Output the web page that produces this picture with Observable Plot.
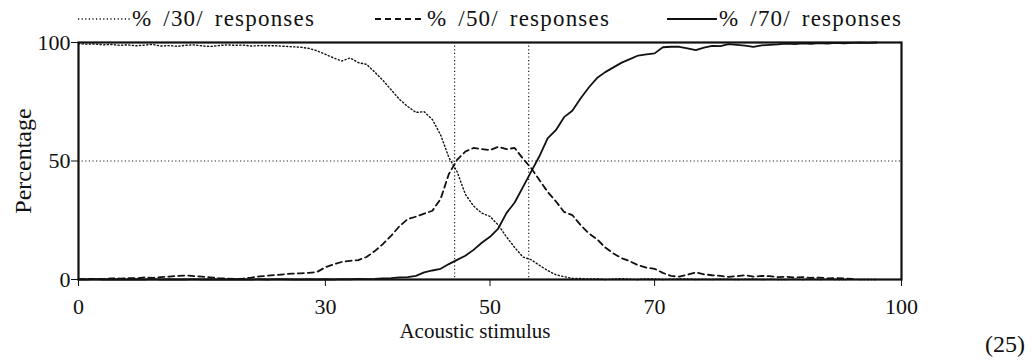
<!DOCTYPE html>
<html><head><meta charset="utf-8">
<script src="https://cdn.jsdelivr.net/npm/d3@7"></script>
<script src="https://cdn.jsdelivr.net/npm/@observablehq/plot@0.6"></script>
<style>
body{margin:0;background:#fff;width:1032px;height:362px;overflow:hidden;position:relative;font-family:"Liberation Serif","Times New Roman",serif;color:#111}
#legend{position:relative;height:36px;width:1032px}
.item{position:absolute;top:4px;height:30px;display:flex;align-items:center;font-size:23px;letter-spacing:1.2px;word-spacing:4px;white-space:nowrap}
.item svg{display:block;margin-right:2px}
#note{position:absolute;left:985px;top:331px;font-size:24px}
</style></head><body>
<div id="legend"></div>
<div id="chart"></div>
<div id="note">(25)</div>
<script>
// Acoustic stimulus steps (x)
const stimulus = [
  0,1,2,3,4,5,6,7,8,9,
  10,11,12,13,14,15,16,17,18,19,
  20,21,22,23,24,25,26,27,28,29,
  30,31,32,33,34,35,36,37,38,39,
  40,41,42,43,44,45,46,47,48,49,
  50,51,52,53,54,55,56,57,58,59,
  60,61,62,63,64,65,66,67,68,69,
  70,71,72,73,74,75,76,77,78,79,
  80,81,82,83,84,85,86,87,88,89,
  90,91,92,93,94,95,96,97
];
// % /30/ responses
const resp30 = [
  99.5,99.3,99.4,99.0,99.2,98.8,99.0,98.6,98.9,99.2,
  98.5,98.7,98.4,98.8,99.0,98.6,98.3,98.7,99.0,98.8,
  98.9,98.5,98.7,98.6,98.6,98.4,98.2,98.0,97.5,96.5,
  95.0,93.5,92.2,93.5,91.5,90.8,87.5,84.0,80.0,76.0,
  73.0,70.5,70.8,67.5,61.0,51.5,45.5,36.0,31.0,28.0,
  26.6,23.0,18.0,13.5,9.5,8.3,6.0,3.8,2.0,1.2,
  0.5,0.4,0.2,0.3,0.0,0.2,0.4,0.1,0.0,0.3,
  0.2,0.0,0.1,0.3,0.2,0.0,0.1,0.0,0.2,0.1,
  0.0,0.1,0.2,0.0,0.1,0.0,0.0,0.1,0.0,0.2,
  0.0,0.1,0.0,0.0,0.1,0.0,0.0,0.0
];
// % /50/ responses
const resp50 = [
  0.0,0.2,0.3,0.2,0.5,0.4,0.6,0.5,0.9,0.7,
  1.0,1.2,1.5,1.7,1.4,1.2,0.9,0.6,0.4,0.2,
  0.4,0.8,1.3,1.6,1.9,2.2,2.5,2.6,2.8,3.2,
  5.2,6.4,7.4,7.9,8.2,9.5,12.0,15.0,18.5,22.5,
  25.5,26.5,27.8,29.0,34.0,44.5,50.5,54.0,55.5,55.0,
  54.6,56.0,55.0,55.5,51.0,47.0,42.0,37.0,33.0,28.5,
  27.2,23.0,19.5,17.0,13.5,11.0,9.0,7.7,6.0,5.0,
  4.5,2.8,1.5,1.2,2.0,3.0,2.2,1.8,1.5,1.1,
  1.4,1.8,1.2,1.5,1.4,1.0,1.2,0.8,1.0,0.7,
  0.8,0.5,0.6,0.4,0.3,null,null,null
];
// % /70/ responses
const resp70 = [
  0.1,0.0,0.2,0.0,0.1,0.0,0.0,0.1,0.0,0.2,
  0.0,0.1,0.0,0.0,0.2,0.0,0.1,0.0,0.0,0.1,
  0.0,0.0,0.1,0.0,0.2,0.1,0.0,0.0,0.1,0.0,
  0.1,0.0,0.2,0.1,0.3,0.2,0.3,0.5,0.6,0.9,
  1.0,1.5,3.0,3.8,4.5,6.5,8.3,10.0,12.5,15.5,
  18.0,21.5,28.0,32.5,39.0,45.5,52.0,59.5,63.0,68.5,
  71.2,76.4,81.0,85.0,87.5,89.5,91.5,93.0,94.5,95.0,
  95.4,98.0,98.2,98.2,97.5,96.8,97.8,98.6,98.5,99.3,
  99.0,98.7,98.2,98.8,99.0,99.2,99.5,99.3,99.6,99.4,
  99.7,99.5,99.8,99.6,99.8,99.9,99.8,100.0
];
const seriesNames = ["% /30/ responses", "% /50/ responses", "% /70/ responses"];
const xTicks = [0, 30, 50, 70, 100];
const yTicks = [0, 50, 100];
const refY = [50];
const crossX = [45.7, 54.7];

const styles = {
  "% /30/ responses": {strokeWidth: 1.4, strokeDasharray: "1.2,2.4"},
  "% /50/ responses": {strokeWidth: 1.8, strokeDasharray: "6,4"},
  "% /70/ responses": {strokeWidth: 1.8, strokeDasharray: null}
};
const legendPos = {"% /30/ responses": [78, 52], "% /50/ responses": [375, 50], "% /70/ responses": [667, 50]};

const legend = document.getElementById("legend");
for (const name of seriesNames) {
  const [left, w] = legendPos[name];
  const s = styles[name];
  const div = document.createElement("div");
  div.className = "item";
  div.style.left = left + "px";
  div.innerHTML = `<svg width="${w}" height="10"><line x1="0" x2="${w}" y1="5" y2="5" stroke="#111" stroke-width="${s.strokeWidth}" ${s.strokeDasharray ? `stroke-dasharray="${s.strokeDasharray}"` : ""}/></svg><span>${name}</span>`;
  legend.appendChild(div);
}

const tables = [resp30, resp50, resp70].map(vals => stimulus.map((x, i) => ({x, y: vals[i]})));

const chart = Plot.plot({
  width: 1032,
  height: 326,
  marginLeft: 78,
  marginRight: 131,
  marginTop: 6,
  marginBottom: 83,
  x: {domain: [0, 100]},
  y: {domain: [0, 100]},
  style: {fontFamily: "'Liberation Serif', 'Times New Roman', serif", fontSize: "22px", color: "#111", background: "white", overflow: "visible"},
  marks: [
    Plot.ruleY(refY, {stroke: "#222", strokeWidth: 1.2, strokeDasharray: "1.2,2.4"}),
    Plot.ruleX(crossX, {stroke: "#222", strokeWidth: 1.2, strokeDasharray: "1.2,2.4"}),
    ...tables.map((t, i) => Plot.line(t, {x: "x", y: "y", stroke: "#111", ...styles[seriesNames[i]]})),
    Plot.frame({stroke: "#111", strokeWidth: 2.2}),
    Plot.axisX(xTicks, {tickSize: 7, tickPadding: 12, label: null, fontSize: 22}),
    Plot.axisY(yTicks, {tickSize: 7, tickPadding: 1, label: null, fontSize: 22}),
    Plot.text(["Acoustic stimulus"], {frameAnchor: "bottom", dx: -15, dy: 58, fontSize: 21, text: d => d}),
    Plot.text(["Percentage"], {frameAnchor: "left", textAnchor: "middle", rotate: -90, dx: -55, fontSize: 24, text: d => d})
  ]
});
document.getElementById("chart").appendChild(chart);
</script>
</body></html>
